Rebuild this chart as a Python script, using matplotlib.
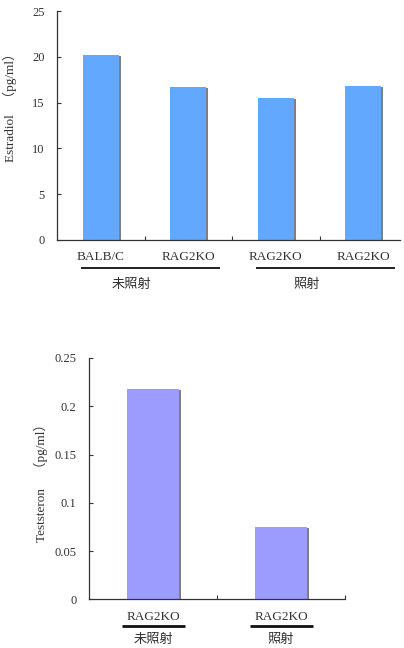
import numpy as np
import matplotlib
matplotlib.use("Agg")
from matplotlib import pyplot as plt
from matplotlib import transforms

plt.rcParams['font.family'] = ['Liberation Serif', 'Noto Sans CJK JP', 'DejaVu Sans']

# estradiol, four groups
e2_names = ["BALB/C", "RAG2KO", "RAG2KO", "RAG2KO"]
e2_vals = [20.25, 16.7, 15.5, 16.8]
e2_groups = [("未照射", 0, 1), ("照射", 2, 3)]

# testosterone, two groups
t_names = ["RAG2KO", "RAG2KO"]
t_vals = [0.2175, 0.0745]
t_groups = [("未照射", 0, 0), ("照射", 1, 1)]

fig = plt.figure(figsize=(4.04, 6.48), dpi=100)
W, H = 404.0, 648.0


def px_axes(l, t, r, b):
    return fig.add_axes([l / W, 1 - b / H, (r - l) / W, (b - t) / H])


def draw(ax, vals, color, width):
    x = np.arange(len(vals))
    shadow = ax.transData + transforms.ScaledTranslation(2 / 100, -1 / 100, fig.dpi_scale_trans)
    ax.bar(x, vals, width, color="#7f7f7f", transform=shadow, zorder=1)
    ax.bar(x, vals, width, color=color, zorder=2)
    for s in ["top", "right"]:
        ax.spines[s].set_visible(False)
    for s in ["left", "bottom"]:
        ax.spines[s].set_color("#333333")
        ax.spines[s].set_linewidth(0.9)
    ax.tick_params(axis="y", direction="in", length=3, width=0.8, color="#333333",
                   labelsize=9, pad=9, labelcolor="#333333")
    ax.tick_params(axis="x", direction="in", length=3, width=0.8, color="#333333",
                   labelbottom=False)


def put(ax, x, dy_px, s, size):
    ax.annotate(s, xy=(x, 0), xycoords=("data", "axes fraction"),
                xytext=(0, -dy_px * 0.72), textcoords="offset points",
                ha="center", va="center", fontsize=size, color="#333333",
                annotation_clip=False)


def underline(ax, x0, x1, dy_px, lw):
    tr = ax.get_xaxis_transform() + transforms.ScaledTranslation(0, -dy_px / 100, fig.dpi_scale_trans)
    ax.plot([x0, x1], [0, 0], color="#111111", lw=lw, transform=tr, clip_on=False,
            solid_capstyle="butt")


# top chart: Estradiol
ax1 = px_axes(57, 11, 400, 240)
draw(ax1, e2_vals, "#62a8ff", 0.41)
ax1.set_xlim(-0.5, -0.5 + 343 / 87.5)
ax1.set_ylim(0, 25)
ax1.set_yticks([0, 5, 10, 15, 20, 25])
ax1.set_xticks([0.5, 1.5, 2.5])
for i, name in enumerate(e2_names):
    put(ax1, i, 17, name, 9.5)
for label, a, b in e2_groups:
    underline(ax1, a - 0.23, b + 0.36, 28, 1.3)
    put(ax1, (a + b) / 2 - 0.15, 45, label, 9.5)
ax1.set_ylabel("Estradiol   （pg/ml）", fontsize=9.5, color="#333333")
ax1.yaxis.set_label_coords(-0.117, 0.594)

# bottom chart: Teststeron
ax2 = px_axes(89, 358, 345, 599.3)
draw(ax2, t_vals, "#9c9cff", 0.41)
ax2.set_xlim(-0.5, 1.5)
ax2.set_ylim(0, 0.25)
ax2.set_yticks([0, 0.05, 0.1, 0.15, 0.2, 0.25])
ax2.set_yticklabels(["0", "0.05", "0.1", "0.15", "0.2", "0.25"])
ax2.set_xticks([0.5, 1.5])
for i, name in enumerate(t_names):
    put(ax2, i, 17.4, name, 9.5)
for label, a, b in t_groups:
    underline(ax2, a - 0.24, b + 0.25, 26.7, 2.0)
    put(ax2, (a + b) / 2, 40.7, label, 9.5)
ax2.set_ylabel("Teststeron　（pg/ml）", fontsize=9.5, color="#333333")
ax2.yaxis.set_label_coords(-0.16, 0.495)

fig.savefig("out.png", dpi=100)
